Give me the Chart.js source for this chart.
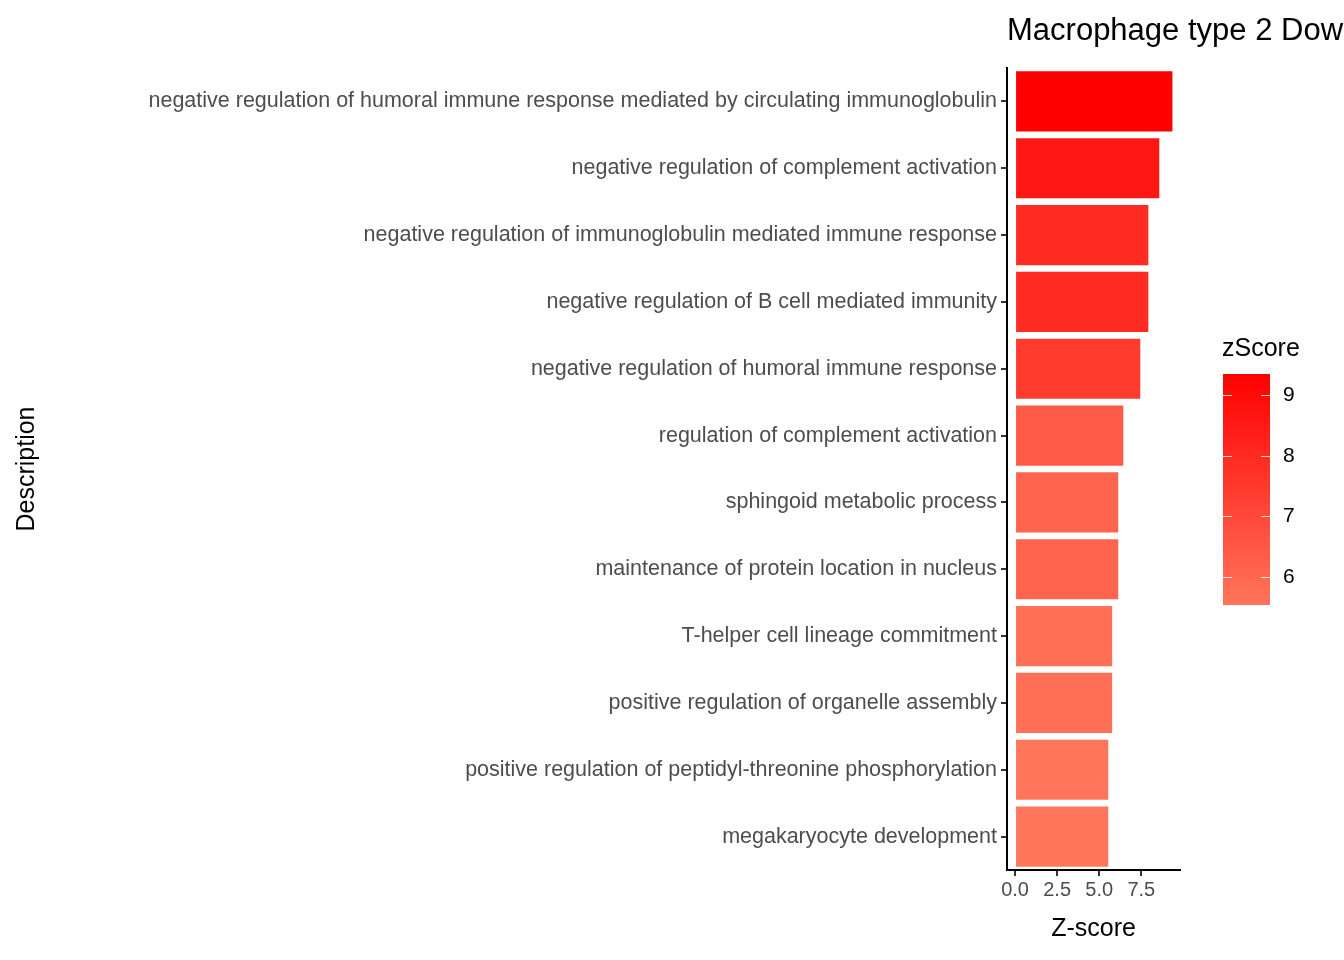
<!DOCTYPE html>
<html>
<head>
<meta charset="utf-8">
<script src="https://cdn.jsdelivr.net/npm/chart.js@4.4.0/dist/chart.umd.min.js"></script>
<style>
  html, body { margin: 0; padding: 0; background: #fff; }
  #chart { display: block; }
</style>
</head>
<body>
<canvas id="chart" width="1344" height="960"></canvas>
<script>
// Términos GO (de arriba a abajo) y sus z-scores
const terms = [
    'negative regulation of humoral immune response mediated by circulating immunoglobulin',
    'negative regulation of complement activation',
    'negative regulation of immunoglobulin mediated immune response',
    'negative regulation of B cell mediated immunity',
    'negative regulation of humoral immune response',
    'regulation of complement activation',
    'sphingoid metabolic process',
    'maintenance of protein location in nucleus',
    'T-helper cell lineage commitment',
    'positive regulation of organelle assembly',
    'positive regulation of peptidyl-threonine phosphorylation',
    'megakaryocyte development'
];
const zScores = [9.35, 8.57, 7.92, 7.92, 7.44, 6.43, 6.13, 6.13, 5.77, 5.77, 5.54, 5.54];
const xTicks = [0, 2.5, 5, 7.5];
const legendTicks = [6, 7, 8, 9];

const FONT = '"Liberation Sans", Arial, sans-serif';
const zMin = Math.min(...zScores), zMax = Math.max(...zScores);
const lowColor = [255, 118, 92], highColor = [255, 0, 0];

function colorFor(v) {
    const t = (v - zMin) / (zMax - zMin);
    const c = lowColor.map((l, i) => Math.round(l + (highColor[i] - l) * t));
    return `rgb(${c[0]},${c[1]},${c[2]})`;
}

// Título, línea del eje y y leyenda de gradiente
const extras = {
    id: 'extras',
    afterDraw(chart) {
        const ctx = chart.ctx;
        ctx.save();
        ctx.fillStyle = '#000';
        ctx.font = '31px ' + FONT;
        ctx.textBaseline = 'alphabetic';
        ctx.textAlign = 'left';
        ctx.fillText('Macrophage type 2 Down', 1007, 40);

        // leyenda
        const lx = 1223, lw = 47, top = 374, bottom = 605;
        ctx.font = '25px ' + FONT;
        ctx.fillText('zScore', 1222, 356);
        const grad = ctx.createLinearGradient(0, bottom, 0, top);
        grad.addColorStop(0, colorFor(zMin));
        grad.addColorStop(1, colorFor(zMax));
        ctx.fillStyle = grad;
        ctx.fillRect(lx, top, lw, bottom - top);
        const yOf = v => bottom - (v - zMin) / (zMax - zMin) * (bottom - top);
        ctx.strokeStyle = 'rgba(255,255,255,0.8)';
        ctx.lineWidth = 1;
        ctx.font = '21px ' + FONT;
        ctx.textBaseline = 'middle';
        legendTicks.forEach(v => {
            const y = Math.round(yOf(v)) + 0.5;
            ctx.beginPath();
            ctx.moveTo(lx, y); ctx.lineTo(lx + 9, y);
            ctx.moveTo(lx + lw - 9, y); ctx.lineTo(lx + lw, y);
            ctx.stroke();
            ctx.fillStyle = '#000';
            ctx.fillText(String(v), 1283, y);
        });
        ctx.restore();
    }
};

new Chart(document.getElementById('chart'), {
    type: 'bar',
    data: {
        labels: terms,
        datasets: [{
            data: zScores,
            backgroundColor: zScores.map(colorFor),
            barPercentage: 0.9,
            categoryPercentage: 1.0
        }]
    },
    options: {
        indexAxis: 'y',
        responsive: false,
        animation: false,
        layout: { padding: { top: 68, right: 164, left: 12, bottom: 0 } },
        plugins: { legend: { display: false }, tooltip: { enabled: false } },
        scales: {
            x: {
                min: -0.48,
                max: 9.8,
                afterBuildTicks: s => { s.ticks = xTicks.map(v => ({ value: v })); },
                afterFit: s => { s.height = 90; },
                grid: { drawOnChartArea: false, tickLength: 6, color: '#333', lineWidth: 2 },
                border: { color: '#000', width: 2 },
                ticks: {
                    color: '#4d4d4d', font: { family: FONT, size: 20 }, padding: 2,
                    maxRotation: 0, autoSkip: false,
                    callback: v => v.toFixed(1)
                },
                title: { display: true, text: 'Z-score', color: '#000', font: { family: FONT, size: 25 }, padding: { top: 0, bottom: 16 } }
            },
            y: {
                afterFit: s => { s.width = 995; },
                grid: { drawOnChartArea: false, offset: false, tickLength: 6, color: '#333', lineWidth: 2 },
                border: { color: '#000', width: 2 },
                ticks: { color: '#4d4d4d', font: { family: FONT, size: 21.5 }, padding: 4, autoSkip: false },
                title: { display: true, text: 'Description', color: '#000', font: { family: FONT, size: 25 }, padding: 0 }
            }
        }
    },
    plugins: [extras]
});
</script>
</body>
</html>
